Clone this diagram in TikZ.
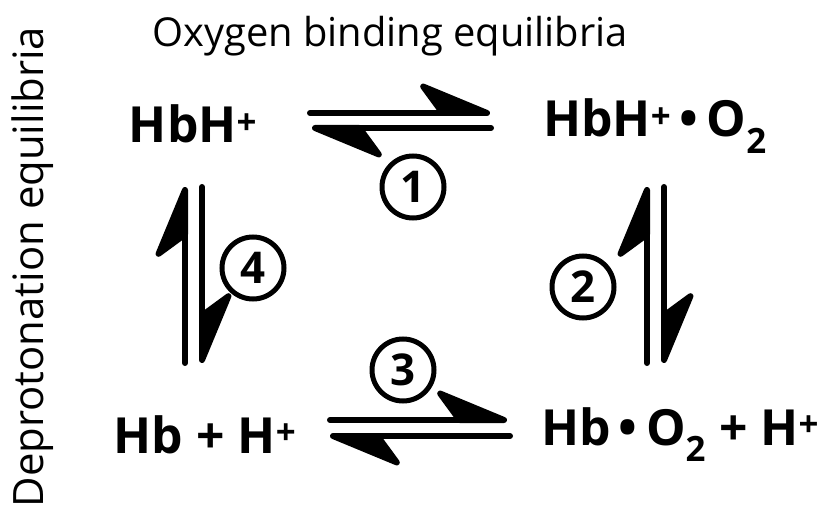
\documentclass[tikz,border=0pt]{standalone}
\usepackage{fontspec}
\setmainfont{Open Sans}
\usetikzlibrary{arrows.meta, positioning}

\begin{document}
\begin{tikzpicture}[x=1bp, y=-1bp,
    spc/.style={font=\fontsize{50}{60}\selectfont\bfseries, inner sep=0pt, anchor=base},
    lbl/.style={font=\fontsize{40}{48}\selectfont, inner sep=0pt, anchor=base},
    num/.style={circle, draw, line width=5bp, minimum size=62bp, inner sep=0pt,
                font=\fontsize{44}{50}\selectfont\bfseries},
    harp/.style={line width=6bp, line cap=round,
                 -{Stealth[length=80bp, width=66bp, inset=24bp, harpoon, round]}}
  ]
  \useasboundingbox (0,0) rectangle (830,516);

  % titles
  \node[lbl] (ttl) at (390,47) {Oxygen binding equilibria};
  \node[lbl, rotate=90, font=\fontsize{42}{48}\selectfont] (side) at (43,267) {Deprotonation equilibria};

  % species
  \node[spc] (a) at (193,143) {HbH\textsuperscript{+}};
  \node[spc] (b) at (655,137) {HbH\textsuperscript{+}\,•\,O\textsubscript{2}};
  \node[spc] (c) at (205,453) {Hb + H\textsuperscript{+}};
  \node[spc] (d) at (680,445) {Hb\,•\,O\textsubscript{2} + H\textsuperscript{+}};

  % arrow ends
  \coordinate (a1) at (310,113);  \coordinate (b1) at (490,113);
  \coordinate (a2) at (312,128);  \coordinate (b2) at (491,128);
  \coordinate (b3) at (647,187);  \coordinate (d3) at (647,363);
  \coordinate (b4) at (664,187);  \coordinate (d4) at (664,363);
  \coordinate (c5) at (330,420);  \coordinate (d5) at (507,420);
  \coordinate (c6) at (330,436);  \coordinate (d6) at (510,436);
  \coordinate (a7) at (185,187);  \coordinate (c7) at (185,363);
  \coordinate (a8) at (202,187);  \coordinate (c8) at (202,363);

  \draw[harp] (a1) -- (b1);
  \draw[harp] (b2) -- (a2);
  \draw[harp] (d3) -- (b3);
  \draw[harp] (b4) -- (d4);
  \draw[harp] (c5) -- (d5);
  \draw[harp] (d6) -- (c6);
  \draw[harp] (c7) -- (a7);
  \draw[harp] (a8) -- (c8);

  % step numbers
  \node[num] (n1) at (413,187) {1};
  \node[num] (n2) at (583,287) {2};
  \node[num] (n3) at (403,370) {3};
  \node[num] (n4) at (253,268) {4};
\end{tikzpicture}
\end{document}
